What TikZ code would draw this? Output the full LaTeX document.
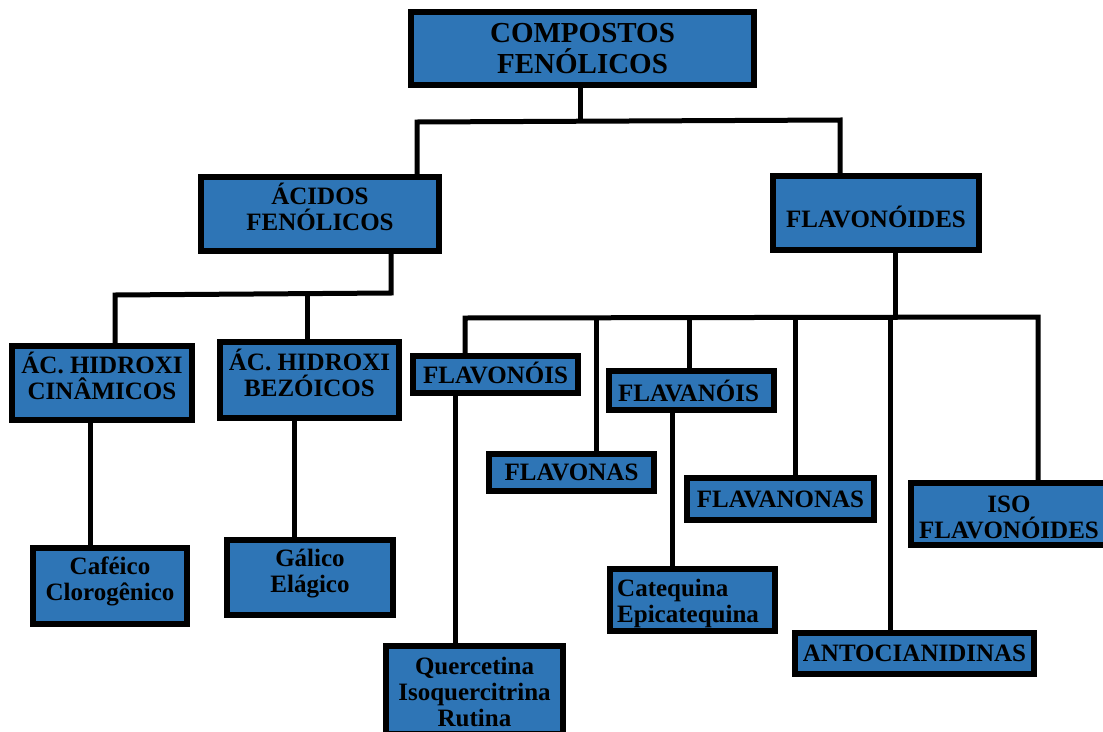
\documentclass[tikz,border=0pt]{standalone}
\usepackage{fontspec}
\setmainfont{Liberation Serif}
\definecolor{boxblue}{HTML}{2E75B6}
\begin{document}
\begin{tikzpicture}[x=1pt,y=-1pt,
  box/.style={draw=black,fill=boxblue,line width=6pt,inner sep=0pt},
  txt/.style={inner sep=0pt,align=center,font=\fontsize{25}{26}\selectfont\bfseries},
  bigtxt/.style={txt,font=\fontsize{29}{31.5}\selectfont\bfseries},
  conn/.style={draw=black,line width=5pt,line join=miter}]
\useasboundingbox (0,0) rectangle (1103,731);

% boxes
\node[box,minimum width=343pt,minimum height=73pt] (top) at (582.5,48.5) {};
\node[box,minimum width=238pt,minimum height=74pt] (acidos) at (320,214) {};
\node[box,minimum width=206pt,minimum height=74pt] (flavonoides) at (876,213) {};
\node[box,minimum width=180pt,minimum height=74pt] (cinamicos) at (102,383) {};
\node[box,minimum width=179pt,minimum height=76pt] (bezoicos) at (309.5,380) {};
\node[box,minimum width=154pt,minimum height=76pt] (cafeico) at (110,586) {};
\node[box,minimum width=166pt,minimum height=75pt] (galico) at (310,577.5) {};
\node[box,minimum width=165pt,minimum height=37pt] (flavonois) at (495.5,374.5) {};
\node[box,minimum width=165pt,minimum height=39pt] (flavanois) at (691.5,390.5) {};
\node[box,minimum width=165pt,minimum height=37pt] (flavonas) at (571.5,472.5) {};
\node[box,minimum width=187pt,minimum height=42pt] (flavanonas) at (780.5,499) {};
\node[box,minimum width=196pt,minimum height=62pt] (iso) at (1009,514) {};
\node[box,minimum width=177pt,minimum height=88pt] (quercetina) at (474.5,690) {};
\node[box,minimum width=165pt,minimum height=62pt] (catequina) at (692.5,600) {};
\node[box,minimum width=239pt,minimum height=41pt] (antocianidinas) at (914.5,653.5) {};

% texts
\node[bigtxt] (top-t) at ([yshift=0pt]top.center) {COMPOSTOS\\FENÓLICOS};
\node[txt] (acidos-t) at ([yshift=7pt]acidos.center) {ÁCIDOS\\FENÓLICOS};
\node[txt] (flavonoides-t) at ([yshift=-4pt]flavonoides.center) {FLAVONÓIDES};
\node[txt] (cinamicos-t) at ([yshift=7pt]cinamicos.center) {ÁC. HIDROXI\\CINÂMICOS};
\node[txt] (bezoicos-t) at ([yshift=7pt]bezoicos.center) {ÁC. HIDROXI\\BEZÓICOS};
\node[txt] (cafeico-t) at ([yshift=5pt]cafeico.center) {Caféico\\Clorogênico};
\node[txt] (galico-t) at ([yshift=4pt]galico.center) {Gálico\\Elágico};
\node[txt] (flavonois-t) at ([yshift=2pt]flavonois.center) {FLAVONÓIS};
\node[txt] (flavanois-t) at ([xshift=-3pt]flavanois.center) {FLAVANÓIS};
\node[txt] (flavonas-t) at (flavonas.center) {FLAVONAS};
\node[txt] (flavanonas-t) at (flavanonas.center) {FLAVANONAS};
\node[txt] (iso-t) at ([yshift=-3pt]iso.center) {ISO\\FLAVONÓIDES};
\node[txt] (quercetina-t) at ([yshift=-2pt]quercetina.center) {Quercetina\\Isoquercitrina\\Rutina};
\node[txt,align=left,anchor=west] (catequina-t) at ([xshift=10pt,yshift=-3pt]catequina.west) {Catequina\\Epicatequina};
\node[txt] (antocianidinas-t) at (antocianidinas.center) {ANTOCIANIDINAS};

% hub coordinates
\coordinate (c1) at (580,121);
\coordinate (hL) at (417,122);
\coordinate (hR) at (840,120);
\coordinate (a1) at (391,293);
\coordinate (aL) at (115,295);
\coordinate (aM) at (307,294);
\coordinate (f1) at (895,317);
\coordinate (fL) at (465,318);
\coordinate (fR) at (1038,317);
\coordinate (v2) at (596,317);
\coordinate (v3) at (689,317);
\coordinate (v4) at (795,317);
\coordinate (v5) at (890,317);
\coordinate (q1) at (455,0);
\coordinate (k1) at (672,0);
\coordinate (b1) at (90,0);
\coordinate (g1) at (294,0);

% connectors
\draw[conn] (top.south -| c1) -- (c1);
\draw[conn] (acidos.north -| hL) -- (hL) -- (hR) -- (flavonoides.north -| hR);

\draw[conn] (acidos.south -| a1) -- (a1) -- (aL) -- (cinamicos.north -| aL);
\draw[conn] (bezoicos.north -| aM) -- (aM);

\draw[conn] (cinamicos.south -| b1) -- (cafeico.north -| b1);
\draw[conn] (bezoicos.south -| g1) -- (galico.north -| g1);

\draw[conn] (flavonoides.south -| f1) -- (f1);
\draw[conn] (flavonois.north -| fL) -- (fL) -- (fR) -- (iso.north -| fR);
\draw[conn] (v2) -- (flavonas.north -| v2);
\draw[conn] (v3) -- (flavanois.north -| v3);
\draw[conn] (v4) -- (flavanonas.north -| v4);
\draw[conn] (v5) -- (antocianidinas.north -| v5);

\draw[conn] (flavonois.south -| q1) -- (quercetina.north -| q1);
\draw[conn] (flavanois.south -| k1) -- (catequina.north -| k1);
\end{tikzpicture}
\end{document}
